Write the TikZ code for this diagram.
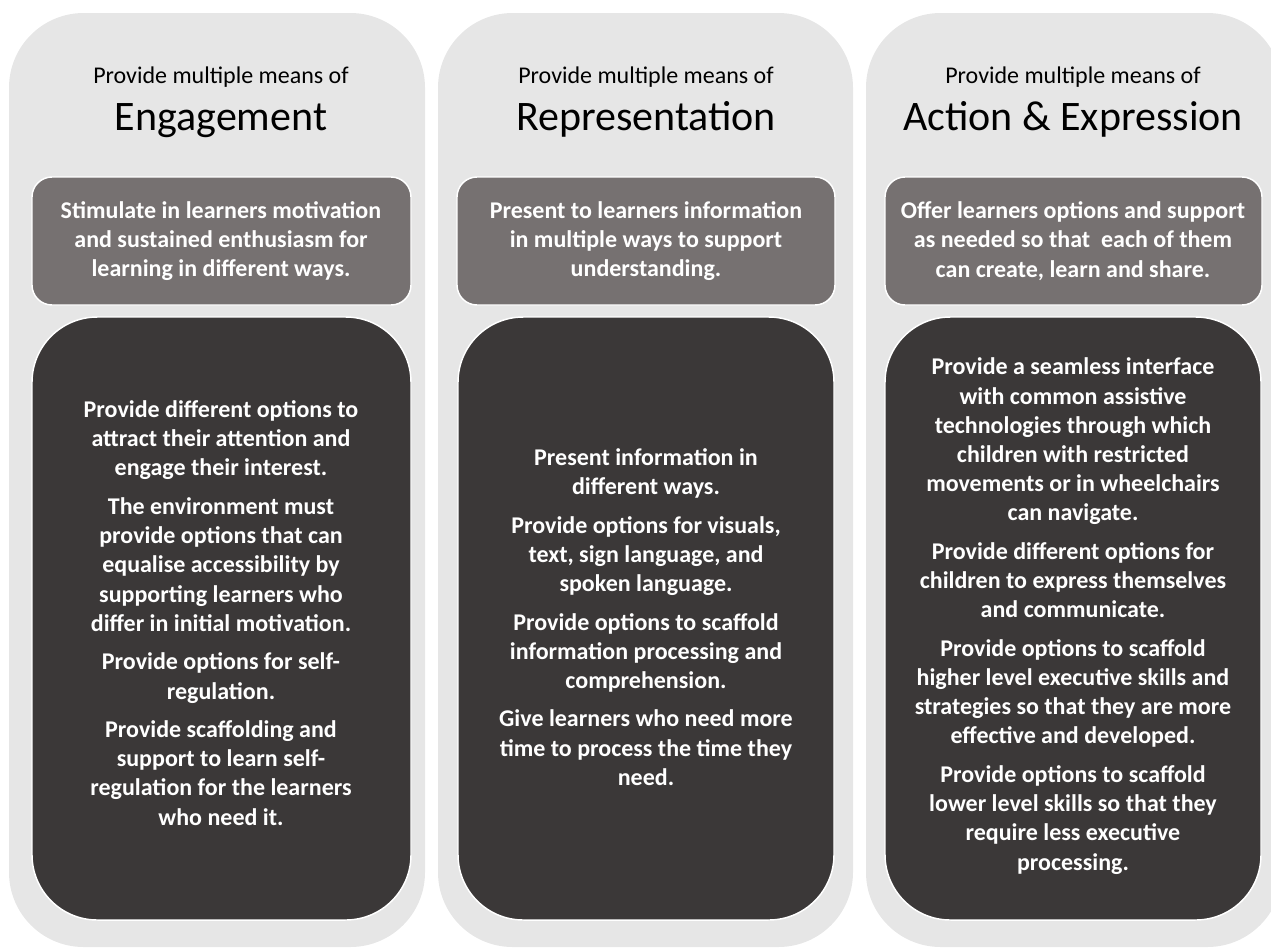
\documentclass[tikz,border=0pt]{standalone}
\usepackage{fontspec}
\setmainfont{Carlito}
\definecolor{outerg}{HTML}{E6E6E6}
\definecolor{midg}{HTML}{767171}
\definecolor{darkg}{HTML}{3B3838}
\begin{document}
\begin{tikzpicture}[x=0.75pt,y=-0.75pt,
  outerbox/.style={fill=outerg,rounded corners=56pt},
  midbox/.style={fill=midg,draw=white,line width=1.1pt,rounded corners=15pt},
  darkbox/.style={fill=darkg,draw=white,line width=1.1pt,rounded corners=49pt},
  smalltitle/.style={anchor=base,font=\fontsize{18}{22}\selectfont,text=black,inner sep=0pt},
  bigtitle/.style={anchor=base,font=\fontsize{31.5}{38}\selectfont,text=black,inner sep=0pt},
  boxtext/.style={align=center,text=white,inner sep=0pt,font=\fontsize{18}{21.9}\selectfont\bfseries}]
\useasboundingbox (0,0) rectangle (1271,951);
\begin{scope}
\clip (0,0) rectangle (1271,951);
% column 1
\fill[outerbox] (9,13) rectangle (425,947);
\draw[midbox] (32,177) rectangle (411,305);
\draw[darkbox] (32,317) rectangle (411,920);
% column 2
\fill[outerbox] (438,13) rectangle (853,947);
\draw[midbox] (457,177) rectangle (835,305);
\draw[darkbox] (458,317) rectangle (834,920);
% column 3
\fill[outerbox] (866,13) rectangle (1282,947);
\draw[midbox] (885,177) rectangle (1262,305);
\draw[darkbox] (885,317) rectangle (1261,920);
\end{scope}

\node[smalltitle] (s1) at (221,83) {Provide multiple means of};
\node[bigtitle] (b1) at (221,130) {Engagement};
\node[smalltitle] (s2) at (646,83) {Provide multiple means of};
\node[bigtitle] (b2) at (646,130) {Representation};
\node[smalltitle] (s3) at (1073,83) {Provide multiple means of};
\node[bigtitle] (b3) at (1073,130) {Action \& Expression};

\node[boxtext] (m1) at (221,241) {Stimulate in learners motivation\\and sustained enthusiasm for\\learning in different ways.};
\node[boxtext] (m2) at (646,241) {Present to learners information\\in multiple ways to support\\understanding.};
\node[boxtext] (m3) at (1073,241) {Offer learners options and support\\as needed so that\ \ each of them\\can create, learn and share.};

\node[boxtext] (d1) at (221,613) {Provide different options to\\attract their attention and\\engage their interest.\\[7pt]
The environment must\\provide options that can\\equalise accessibility by\\supporting learners who\\differ in initial motivation.\\[7pt]
Provide options for self-\\regulation.\\[7pt]
Provide scaffolding and\\support to learn self-\\regulation for the learners\\who need it.};
\node[boxtext] (d2) at (646,617) {Present information in\\different ways.\\[7pt]
Provide options for visuals,\\text, sign language, and\\spoken language.\\[7pt]
Provide options to scaffold\\information processing and\\comprehension.\\[7pt]
Give learners who need more\\time to process the time they\\need.};
\node[boxtext] (d3) at (1073,616) {Provide a seamless interface\\with common assistive\\technologies through which\\children with restricted\\movements or in wheelchairs\\can navigate.\\[7pt]
Provide different options for\\children to express themselves\\and communicate.\\[7pt]
Provide options to scaffold\\higher level executive skills and\\strategies so that they are more\\effective and developed.\\[7pt]
Provide options to scaffold\\lower level skills so that they\\require less executive\\processing.};
\end{tikzpicture}
\end{document}
